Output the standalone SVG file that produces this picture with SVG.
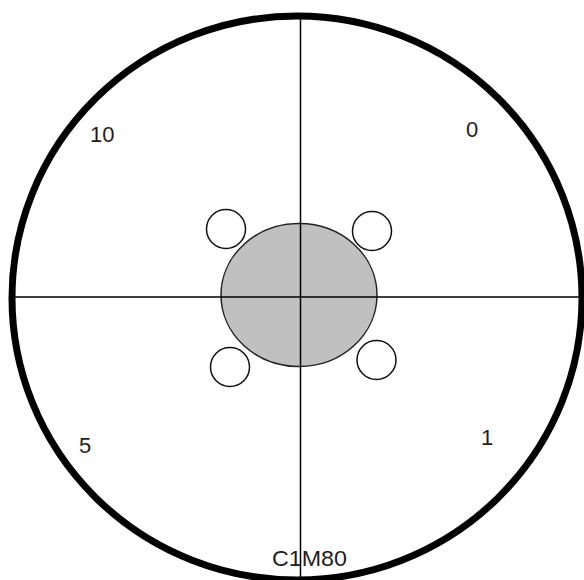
<svg xmlns="http://www.w3.org/2000/svg" width="584" height="580" viewBox="0 0 584 580">
<style>
.lbl{font-family:"Liberation Sans",Arial,sans-serif;font-size:22px;fill:#1e1e1e}
.small{fill:#fff;stroke:#111;stroke-width:1.5}
</style>
<rect width="584" height="580" fill="#fff"/>
<g id="outer"><ellipse cx="297" cy="298" rx="285" ry="282" fill="none" stroke="#000" stroke-width="7"/></g>
<g id="hub"><ellipse cx="299" cy="295" rx="78" ry="71.5" fill="#c0c0c0" stroke="#222" stroke-width="1.5"/></g>
<g id="hole-tl"><circle cx="226" cy="229" r="19.5" class="small"/></g>
<g id="hole-tr"><circle cx="372" cy="231" r="19.5" class="small"/></g>
<g id="hole-bl"><circle cx="230" cy="367" r="19.5" class="small"/></g>
<g id="hole-br"><circle cx="376.5" cy="360" r="19.5" class="small"/></g>
<g id="connectors" stroke="#000" stroke-width="1.5">
<line x1="300.5" y1="19" x2="300.5" y2="580"/>
<line x1="15" y1="297" x2="584" y2="297"/>
</g>
<g id="labels">
<text class="lbl" x="90" y="142">10</text>
<text class="lbl" x="466" y="137">0</text>
<text class="lbl" x="79" y="453">5</text>
<text class="lbl" x="481" y="445">1</text>
<text class="lbl" x="272" y="566" textLength="75" lengthAdjust="spacingAndGlyphs">C1M80</text>
</g>
</svg>
